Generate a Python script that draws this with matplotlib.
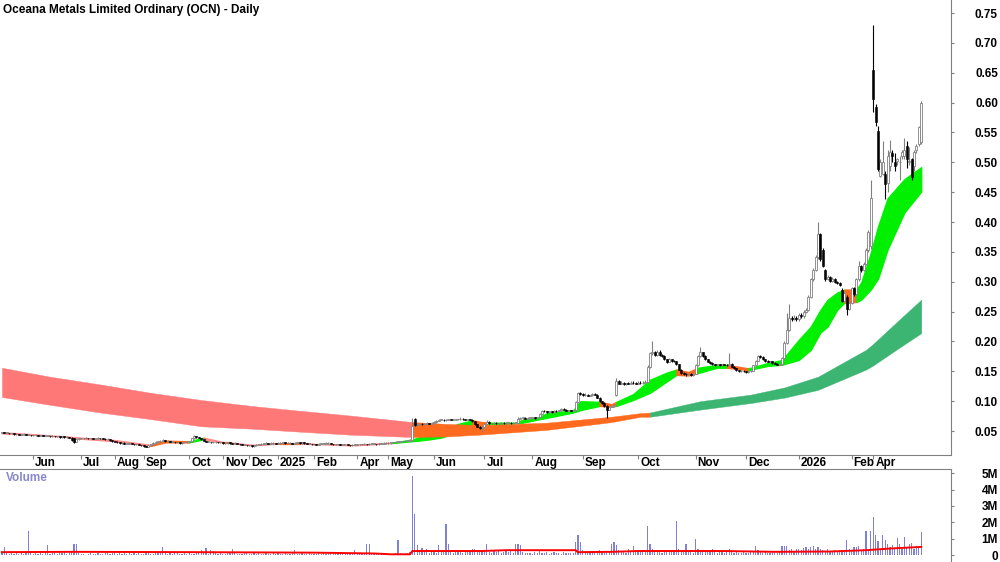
import numpy as np
import matplotlib.pyplot as plt
from matplotlib.transforms import blended_transform_factory, ScaledTranslation
from matplotlib.ticker import FuncFormatter

plt.rcParams['font.family'] = ['Liberation Sans', 'DejaVu Sans']

title = "Oceana Metals Limited Ordinary (OCN) - Daily"

# month labels and the bar (trading day) where each month starts
month_labels = ["Jun", "Jul", "Aug", "Sep", "Oct", "Nov", "Dec", "2025", "Feb", "Apr",
                "May", "Jun", "Jul", "Aug", "Sep", "Oct", "Nov", "Dec", "2026", "Feb", "Apr"]
month_bars = [13, 33, 47, 59, 78, 92, 103, 115, 130, 148,
              161, 180, 201, 221, 242, 265, 289, 310, 332, 354, 363]

# daily prices, in cents
open_c = [
    4.7, 4.8, 4.7, 4.7, 4.6, 4.6, 4.5, 4.5, 4.4, 4.4,
    4.5, 4.4, 4.4, 4.3, 4.3, 4.3, 4.2, 4.3, 4.2, 4.2,
    4.2, 4.1, 4.2, 4.1, 4.1, 4.0, 4.1, 4.0, 4.0, 3.9,
    3.9, 3.2, 3.6, 3.8, 3.8, 3.8, 3.9, 3.8, 3.8, 3.7,
    3.8, 3.9, 3.8, 3.7, 3.6, 3.7, 3.5, 3.3, 3.2, 3.1,
    3.0, 3.0, 2.9, 2.9, 3.0, 2.9, 2.8, 2.8, 2.7, 2.6,
    2.5, 2.4, 2.6, 2.8, 3.0, 3.2, 3.3, 3.4, 3.5, 3.3,
    3.4, 3.2, 3.2, 3.1, 3.1, 3.0, 3.1, 3.1, 3.2, 3.3,
    3.8, 4.1, 4.0, 3.9, 3.6, 3.4, 3.2, 3.2, 3.1, 3.1,
    3.2, 3.1, 3.1, 3.0, 3.0, 3.1, 3.0, 2.9, 3.0, 2.9,
    2.8, 2.7, 2.7, 2.6, 2.6, 2.5, 2.6, 2.7, 2.8, 2.9,
    2.9, 3.0, 2.9, 3.0, 3.0, 2.9, 3.0, 3.0, 3.1, 3.0,
    3.0, 3.0, 2.9, 3.0, 3.1, 3.0, 3.1, 3.0, 2.9, 2.9,
    2.8, 2.8, 2.7, 2.9, 2.9, 2.9, 3.0, 3.0, 2.9, 2.8,
    2.8, 2.8, 2.7, 2.8, 2.8, 2.7, 2.6, 2.7, 2.7, 2.8,
    2.8, 2.8, 2.9, 2.8, 2.9, 2.9, 2.9, 2.8, 2.9, 2.9,
    3.0, 3.0, 3.0, 3.1, 3.1, 3.2, 3.2, 3.3, 3.3, 3.4,
    3.4, 3.5, 7.0, 6.0, 6.1, 6.2, 6.1, 6.2, 6.3, 6.2,
    6.4, 6.5, 6.7, 6.9, 6.9, 6.8, 6.9, 7.0, 6.9, 6.9,
    7.0, 7.0, 7.1, 7.0, 6.9, 7.0, 6.9, 6.6, 6.1, 5.7,
    5.5, 5.6, 6.2, 6.5, 6.3, 6.3, 6.4, 6.3, 6.3, 6.4,
    6.3, 6.4, 6.4, 6.3, 6.4, 6.4, 7.1, 7.2, 7.2, 7.1,
    7.2, 7.2, 7.3, 7.2, 7.3, 7.9, 8.4, 8.3, 8.2, 8.3,
    8.2, 8.4, 8.3, 8.5, 8.7, 8.6, 8.4, 8.5, 8.4, 8.5,
    9.8, 11.4, 11.2, 11.0, 11.1, 10.9, 11.0, 11.2, 11.1, 10.6,
    10.0, 9.7, 9.2, 8.6, 9.1, 9.2, 11.0, 13.4, 12.9, 13.0,
    12.8, 13.0, 12.9, 13.1, 13.0, 12.9, 13.1, 13.0, 13.1, 13.2,
    15.8, 18.0, 18.2, 17.8, 18.3, 17.7, 17.6, 17.0, 16.6, 17.0,
    16.8, 16.7, 16.2, 15.3, 14.8, 14.6, 14.5, 14.6, 14.4, 14.6,
    16.0, 17.6, 18.2, 17.6, 17.0, 16.6, 16.4, 16.2, 16.1, 16.2,
    16.0, 16.2, 16.1, 16.0, 16.3, 15.8, 15.5, 15.2, 15.0, 15.1,
    15.0, 14.9, 15.0, 15.1, 16.0, 16.8, 17.5, 17.4, 17.0, 16.8,
    16.6, 16.7, 16.4, 16.3, 16.1, 16.2, 17.3, 19.8, 22.0, 24.0,
    23.8, 24.0, 23.7, 24.5, 24.2, 25.0, 25.3, 27.5, 30.4, 32.0,
    34.2, 38.0, 35.4, 32.0, 30.5, 30.8, 30.2, 30.5, 30.0, 29.8,
    28.7, 26.8, 27.5, 25.5, 26.5, 29.0, 28.0, 30.4, 32.6, 32.0,
    33.0, 35.4, 36.0, 65.5, 59.2, 55.2, 47.7, 48.0, 48.0, 46.6,
    49.3, 51.6, 50.0, 50.3, 50.0, 51.0, 51.0, 52.7, 50.0, 50.5,
    49.3, 52.0, 53.0, 53.4,
]
high_c = [
    4.9, 4.8, 4.8, 4.7, 4.7, 4.6, 4.6, 4.5, 4.5, 4.6,
    4.5, 4.5, 4.4, 4.4, 4.4, 4.3, 4.4, 4.3, 4.3, 4.3,
    4.2, 4.3, 4.2, 4.2, 4.1, 4.2, 4.1, 4.1, 4.0, 4.0,
    3.9, 3.7, 3.9, 3.9, 3.9, 4.0, 3.9, 3.9, 3.8, 3.9,
    4.0, 3.9, 3.8, 3.8, 3.8, 3.7, 3.5, 3.4, 3.3, 3.2,
    3.1, 3.1, 3.0, 3.1, 3.0, 2.9, 2.9, 2.8, 2.7, 2.6,
    2.5, 2.7, 2.9, 3.1, 3.3, 3.4, 3.5, 3.7, 3.5, 3.5,
    3.4, 3.3, 3.2, 3.2, 3.1, 3.2, 3.2, 3.3, 3.4, 3.9,
    4.3, 4.2, 4.0, 3.9, 3.6, 3.4, 3.3, 3.2, 3.2, 3.3,
    3.2, 3.2, 3.1, 3.1, 3.2, 3.1, 3.0, 3.1, 3.0, 2.9,
    2.8, 2.8, 2.7, 2.7, 2.6, 2.7, 2.8, 2.9, 3.0, 3.0,
    3.1, 3.0, 3.1, 3.1, 3.0, 3.1, 3.1, 3.2, 3.1, 3.1,
    3.1, 3.0, 3.1, 3.2, 3.1, 3.2, 3.1, 3.0, 3.0, 2.9,
    2.9, 2.9, 3.0, 3.0, 3.0, 3.1, 3.1, 3.0, 2.9, 2.9,
    2.9, 2.8, 2.9, 2.9, 2.8, 2.7, 2.8, 2.8, 2.9, 2.9,
    2.9, 3.0, 2.9, 3.0, 3.0, 3.0, 2.9, 3.0, 3.0, 3.1,
    3.1, 3.1, 3.2, 3.2, 3.3, 3.3, 3.4, 3.4, 3.5, 3.5,
    3.6, 7.2, 7.2, 6.3, 6.4, 6.3, 6.3, 6.5, 6.4, 6.5,
    6.6, 6.9, 7.1, 7.0, 7.0, 7.0, 7.1, 7.1, 7.0, 7.1,
    7.1, 7.3, 7.2, 7.1, 7.1, 7.0, 7.0, 6.7, 6.2, 5.8,
    5.8, 6.4, 6.8, 6.6, 6.4, 6.5, 6.5, 6.4, 6.5, 6.5,
    6.5, 6.5, 6.5, 6.5, 6.5, 7.3, 7.3, 7.4, 7.3, 7.3,
    7.3, 7.4, 7.4, 7.4, 8.0, 8.6, 8.5, 8.4, 8.4, 8.4,
    8.5, 8.5, 8.6, 8.9, 8.8, 8.7, 8.6, 8.6, 8.6, 10.0,
    11.6, 11.6, 11.3, 11.3, 11.2, 11.1, 11.4, 11.3, 11.2, 10.7,
    10.1, 9.8, 9.3, 9.2, 9.4, 9.5, 13.8, 13.5, 13.3, 13.2,
    13.1, 13.2, 13.4, 13.3, 13.2, 13.4, 13.3, 13.3, 13.5, 16.0,
    18.3, 20.0, 18.4, 18.6, 18.5, 17.9, 17.7, 17.1, 17.2, 17.1,
    16.9, 16.8, 16.3, 15.4, 14.9, 14.8, 14.8, 14.7, 14.7, 16.2,
    17.8, 19.0, 18.3, 17.7, 17.1, 16.7, 16.5, 16.3, 16.3, 16.3,
    16.3, 16.3, 16.2, 18.0, 16.4, 15.9, 15.6, 15.3, 15.2, 15.2,
    15.1, 15.1, 15.2, 16.1, 16.9, 17.7, 17.8, 17.5, 17.1, 16.9,
    16.8, 16.8, 16.5, 16.4, 16.3, 17.4, 20.0, 24.8, 26.2, 24.3,
    24.4, 24.2, 24.8, 24.7, 25.2, 25.6, 27.8, 30.6, 32.3, 34.5,
    40.0, 38.2, 35.6, 32.2, 31.2, 31.0, 30.8, 30.7, 30.2, 30.0,
    28.9, 28.5, 27.7, 26.8, 29.2, 29.2, 30.7, 33.5, 32.8, 33.3,
    35.7, 38.6, 47.0, 73.0, 59.8, 56.0, 50.5, 53.5, 48.5, 52.0,
    53.7, 52.0, 51.5, 50.8, 51.0, 52.0, 54.0, 53.5, 52.5, 50.8,
    52.0, 53.0, 56.0, 60.2,
]
low_c = [
    4.6, 4.6, 4.6, 4.5, 4.5, 4.4, 4.4, 4.3, 4.3, 4.3,
    4.3, 4.3, 4.2, 4.2, 4.2, 4.1, 4.1, 4.1, 4.1, 4.1,
    4.0, 4.0, 4.0, 4.0, 3.9, 3.9, 3.9, 3.9, 3.8, 3.4,
    3.0, 3.1, 3.5, 3.7, 3.7, 3.7, 3.7, 3.7, 3.6, 3.6,
    3.7, 3.7, 3.6, 3.5, 3.5, 3.4, 3.2, 3.1, 3.0, 2.9,
    2.9, 2.8, 2.8, 2.8, 2.8, 2.7, 2.7, 2.6, 2.5, 2.4,
    2.3, 2.3, 2.5, 2.7, 2.9, 3.1, 3.2, 3.3, 3.2, 3.2,
    3.1, 3.1, 3.0, 3.0, 2.9, 2.9, 3.0, 3.0, 3.1, 3.2,
    3.7, 3.9, 3.8, 3.5, 3.3, 3.1, 3.1, 3.0, 3.0, 3.0,
    3.0, 3.0, 2.9, 2.9, 2.9, 2.9, 2.8, 2.8, 2.8, 2.7,
    2.6, 2.6, 2.5, 2.5, 2.4, 2.4, 2.5, 2.6, 2.7, 2.8,
    2.8, 2.8, 2.8, 2.9, 2.8, 2.8, 2.9, 2.9, 2.9, 2.9,
    2.9, 2.8, 2.8, 2.9, 2.9, 2.9, 2.9, 2.8, 2.8, 2.7,
    2.7, 2.6, 2.6, 2.8, 2.8, 2.8, 2.9, 2.8, 2.7, 2.7,
    2.7, 2.6, 2.6, 2.7, 2.6, 2.5, 2.5, 2.6, 2.6, 2.7,
    2.7, 2.7, 2.7, 2.7, 2.8, 2.8, 2.7, 2.7, 2.8, 2.8,
    2.9, 2.9, 2.9, 3.0, 3.0, 3.1, 3.1, 3.2, 3.2, 3.3,
    3.3, 3.4, 5.8, 5.9, 6.0, 6.0, 6.0, 6.1, 6.1, 6.1,
    6.3, 6.4, 6.6, 6.8, 6.7, 6.7, 6.8, 6.8, 6.8, 6.8,
    6.9, 6.9, 6.9, 6.8, 6.8, 6.8, 6.5, 6.0, 5.6, 5.3,
    4.9, 5.5, 6.1, 6.2, 6.2, 6.2, 6.2, 6.2, 6.2, 6.2,
    6.2, 6.3, 6.2, 6.2, 6.3, 6.3, 7.0, 7.1, 7.0, 7.0,
    7.1, 7.1, 7.1, 7.1, 7.2, 7.8, 8.2, 8.1, 8.1, 8.1,
    8.1, 8.2, 8.2, 8.4, 8.5, 8.3, 8.3, 8.3, 8.3, 8.4,
    9.7, 11.0, 10.9, 10.9, 10.8, 10.8, 10.9, 11.0, 10.5, 9.9,
    9.6, 9.1, 7.2, 8.5, 9.0, 9.1, 10.9, 12.8, 12.8, 12.7,
    12.7, 12.8, 12.8, 12.9, 12.8, 12.8, 12.9, 12.9, 13.0, 13.2,
    15.6, 17.8, 17.6, 17.6, 17.5, 17.4, 16.9, 16.4, 16.5, 16.6,
    16.5, 16.1, 15.2, 14.6, 14.4, 14.3, 14.4, 14.2, 14.3, 14.5,
    15.9, 17.4, 17.4, 16.9, 16.5, 16.2, 16.0, 15.9, 16.0, 15.9,
    15.9, 16.0, 15.9, 15.9, 15.7, 15.4, 15.1, 14.9, 14.9, 14.9,
    14.7, 14.8, 14.9, 15.0, 15.9, 16.7, 17.2, 16.9, 16.6, 16.5,
    16.5, 16.3, 16.2, 16.0, 16.0, 16.1, 17.1, 19.6, 21.8, 23.5,
    23.6, 23.5, 23.5, 24.0, 24.0, 24.8, 25.1, 27.3, 30.1, 31.8,
    33.8, 33.5, 32.4, 30.2, 30.3, 30.0, 30.0, 29.8, 29.6, 29.3,
    26.6, 26.6, 24.5, 25.3, 26.3, 27.6, 27.8, 30.2, 31.6, 31.8,
    32.8, 35.0, 35.5, 58.4, 56.0, 48.5, 47.6, 47.8, 43.8, 45.0,
    48.5, 50.0, 48.5, 49.5, 47.0, 50.5, 50.5, 49.0, 49.5, 47.0,
    48.5, 51.5, 52.8, 53.0,
]
close_c = [
    4.8, 4.7, 4.7, 4.6, 4.6, 4.5, 4.5, 4.4, 4.4, 4.5,
    4.4, 4.4, 4.3, 4.3, 4.3, 4.2, 4.3, 4.2, 4.2, 4.2,
    4.1, 4.2, 4.1, 4.1, 4.0, 4.1, 4.0, 4.0, 3.9, 3.5,
    3.1, 3.6, 3.8, 3.8, 3.8, 3.9, 3.8, 3.8, 3.7, 3.8,
    3.9, 3.8, 3.7, 3.6, 3.7, 3.5, 3.3, 3.2, 3.1, 3.0,
    3.0, 2.9, 2.9, 3.0, 2.9, 2.8, 2.8, 2.7, 2.6, 2.5,
    2.4, 2.6, 2.8, 3.0, 3.2, 3.3, 3.4, 3.5, 3.3, 3.4,
    3.2, 3.2, 3.1, 3.1, 3.0, 3.1, 3.1, 3.2, 3.3, 3.8,
    4.1, 4.0, 3.9, 3.6, 3.4, 3.2, 3.2, 3.1, 3.1, 3.2,
    3.1, 3.1, 3.0, 3.0, 3.1, 3.0, 2.9, 3.0, 2.9, 2.8,
    2.7, 2.7, 2.6, 2.6, 2.5, 2.6, 2.7, 2.8, 2.9, 2.9,
    3.0, 2.9, 3.0, 3.0, 2.9, 3.0, 3.0, 3.1, 3.0, 3.0,
    3.0, 2.9, 3.0, 3.1, 3.0, 3.1, 3.0, 2.9, 2.9, 2.8,
    2.8, 2.7, 2.9, 2.9, 2.9, 3.0, 3.0, 2.9, 2.8, 2.8,
    2.8, 2.7, 2.8, 2.8, 2.7, 2.6, 2.7, 2.7, 2.8, 2.8,
    2.8, 2.9, 2.8, 2.9, 2.9, 2.9, 2.8, 2.9, 2.9, 3.0,
    3.0, 3.0, 3.1, 3.1, 3.2, 3.2, 3.3, 3.3, 3.4, 3.4,
    3.5, 5.8, 6.0, 6.1, 6.2, 6.1, 6.2, 6.3, 6.2, 6.4,
    6.5, 6.7, 6.9, 6.9, 6.8, 6.9, 7.0, 6.9, 6.9, 7.0,
    7.0, 7.1, 7.0, 6.9, 7.0, 6.9, 6.6, 6.1, 5.7, 5.5,
    5.6, 6.2, 6.5, 6.3, 6.3, 6.4, 6.3, 6.3, 6.4, 6.3,
    6.4, 6.4, 6.3, 6.4, 6.4, 7.1, 7.2, 7.2, 7.1, 7.2,
    7.2, 7.3, 7.2, 7.3, 7.9, 8.4, 8.3, 8.2, 8.3, 8.2,
    8.4, 8.3, 8.5, 8.7, 8.6, 8.4, 8.5, 8.4, 8.5, 9.8,
    11.4, 11.2, 11.0, 11.1, 10.9, 11.0, 11.2, 11.1, 10.6, 10.0,
    9.7, 9.2, 8.6, 9.1, 9.2, 9.3, 13.4, 12.9, 13.0, 12.8,
    13.0, 12.9, 13.1, 13.0, 12.9, 13.1, 13.0, 13.1, 13.2, 15.8,
    18.0, 18.2, 17.8, 18.3, 17.7, 17.6, 17.0, 16.6, 17.0, 16.8,
    16.7, 16.2, 15.3, 14.8, 14.6, 14.5, 14.6, 14.4, 14.6, 16.0,
    17.6, 18.2, 17.6, 17.0, 16.6, 16.4, 16.2, 16.1, 16.2, 16.0,
    16.2, 16.1, 16.0, 16.3, 15.8, 15.5, 15.2, 15.0, 15.1, 15.0,
    14.9, 15.0, 15.1, 16.0, 16.8, 17.5, 17.4, 17.0, 16.8, 16.6,
    16.7, 16.4, 16.3, 16.1, 16.2, 17.3, 19.8, 22.0, 24.0, 23.8,
    24.0, 23.7, 24.5, 24.2, 25.0, 25.3, 27.5, 30.4, 32.0, 34.2,
    38.0, 33.8, 32.6, 30.5, 30.8, 30.2, 30.5, 30.0, 29.8, 29.5,
    26.8, 28.2, 25.5, 26.5, 29.0, 28.0, 30.4, 32.6, 32.0, 33.0,
    35.4, 38.3, 44.0, 60.6, 56.7, 48.8, 50.0, 50.0, 46.3, 51.0,
    51.8, 51.0, 49.3, 50.5, 50.0, 51.7, 52.0, 50.5, 50.2, 47.5,
    51.7, 52.7, 55.9, 60.0,
]

# daily volume, in units of 10,000 shares
volume_10k = [
    15, 50, 20, 8, 10, 5, 12, 6, 10, 8,
    12, 145, 10, 6, 15, 8, 10, 5, 12, 60,
    8, 15, 10, 6, 12, 10, 20, 8, 10, 25,
    65, 65, 12, 5, 8, 0, 6, 10, 5, 8,
    12, 6, 4, 10, 20, 8, 15, 12, 6, 10,
    8, 20, 6, 15, 5, 10, 8, 12, 6, 4,
    10, 15, 8, 6, 12, 20, 10, 50, 25, 8,
    15, 6, 20, 10, 5, 8, 12, 6, 10, 8,
    5, 12, 10, 30, 15, 45, 8, 30, 25, 10,
    6, 10, 5, 8, 20, 12, 35, 10, 6, 8,
    5, 10, 15, 6, 8, 10, 5, 12, 8, 6,
    10, 5, 8, 12, 6, 10, 8, 5, 12, 6,
    8, 10, 30, 6, 5, 10, 8, 6, 12, 5,
    8, 6, 10, 5, 12, 8, 6, 10, 5, 8,
    6, 10, 8, 5, 12, 6, 10, 30, 8, 6,
    10, 5, 65, 65, 12, 8, 10, 6, 8, 5,
    10, 6, 8, 5, 12, 90, 10, 8, 15, 12,
    20, 480, 250, 60, 30, 45, 20, 35, 15, 25,
    20, 15, 60, 25, 30, 190, 70, 25, 15, 20,
    30, 20, 15, 25, 30, 20, 35, 40, 30, 20,
    25, 30, 70, 20, 15, 25, 20, 30, 15, 20,
    25, 20, 30, 15, 70, 70, 60, 20, 15, 10,
    15, 8, 20, 12, 25, 15, 10, 20, 8, 12,
    20, 10, 15, 8, 20, 12, 10, 15, 10, 80,
    120, 80, 30, 20, 15, 10, 20, 12, 15, 30,
    20, 15, 10, 25, 70, 80, 60, 30, 20, 25,
    15, 35, 20, 55, 30, 25, 20, 30, 25, 175,
    70, 40, 25, 30, 20, 15, 25, 20, 30, 25,
    20, 210, 40, 20, 30, 65, 25, 20, 15, 100,
    40, 30, 25, 20, 30, 25, 35, 20, 15, 25,
    20, 15, 30, 35, 20, 15, 25, 10, 15, 20,
    10, 15, 20, 25, 55, 30, 20, 15, 20, 10,
    15, 20, 10, 15, 20, 55, 55, 55, 30, 40,
    25, 35, 40, 30, 45, 50, 35, 50, 55, 40,
    50, 35, 30, 25, 35, 20, 25, 30, 25, 20,
    30, 25, 90, 40, 25, 50, 50, 55, 30, 40,
    145, 40, 145, 235, 125, 85, 40, 125, 90, 70,
    50, 60, 45, 105, 70, 40, 110, 50, 65, 75,
    40, 55, 50, 140,
]

# volume moving average (millions), read at a few bars
vma_bars = [0, 30, 80, 130, 155, 162, 170, 171, 200, 210, 239, 240, 254, 265, 300, 322, 345, 360, 370, 383]
vma_mil = [0.18, 0.2, 0.18, 0.15, 0.1, 0.05, 0.05, 0.25, 0.25, 0.3, 0.3, 0.18, 0.2, 0.25, 0.25, 0.2, 0.22, 0.3, 0.4, 0.5]

# short term average ribbon (cents), trend of each stretch
short_bars = [0, 12, 27, 33, 47, 62, 68, 78, 84, 93, 95, 104, 116, 124, 130, 133, 145, 147, 163,
              171, 174, 178, 183, 190, 196, 200, 203, 214, 217, 223, 227, 238, 241, 249, 254, 256,
              263, 270, 277, 281, 286, 290, 298, 302, 311, 319, 325, 332, 337, 341, 344, 348, 351,
              356, 358, 362, 365, 369, 376, 383]
short_top = [4.8, 4.5, 4.1, 3.9, 3.5, 2.7, 3.4, 3.3, 3.9, 3.1, 3.1, 2.7, 3.0, 3.0, 2.9, 2.9, 2.7, 2.7, 3.1,
             3.6, 4.0, 4.5, 5.0, 6.2, 6.8, 6.5, 6.4, 6.4, 6.9, 7.2, 8.0, 8.5, 10.0, 9.9, 9.5, 9.9,
             11.2, 13.6, 14.8, 15.3, 14.9, 15.6, 16.1, 16.1, 15.5, 16.4, 16.9, 20.3, 22.5, 25.3, 27.0, 28.2, 28.7,
             28.7, 29.9, 34.9, 39.3, 44.0, 47.2, 49.2]
short_bot = [4.6, 4.4, 4.0, 3.7, 3.3, 2.5, 3.1, 3.1, 3.6, 3.0, 3.0, 2.6, 2.9, 2.9, 2.8, 2.8, 2.6, 2.6, 3.0,
             3.3, 3.4, 3.6, 3.9, 4.8, 5.9, 6.0, 6.1, 6.3, 6.4, 6.9, 7.2, 8.1, 8.5, 9.2, 9.1, 9.2,
             10.2, 11.4, 13.3, 14.4, 14.3, 14.7, 15.6, 15.6, 15.2, 15.9, 16.1, 16.9, 18.6, 21.5, 22.5, 25.3, 26.5,
             26.6, 27.0, 28.7, 30.5, 35.4, 41.6, 45.1]
short_trend = ["down", "down", "down", "down", "down", "mixed", "mixed", "up", "down", "mixed", "down", "down",
               "mixed", "down", "mixed", "down", "mixed", "down", "up",
               "up", "up", "up", "up", "up", "mixed", "mixed", "up", "up", "up", "up", "up", "up", "up",
               "mixed", "mixed", "up", "up", "up", "up", "mixed", "mixed", "up", "up", "mixed", "up", "up",
               "up", "up", "up", "up", "up", "up", "mixed", "up", "up", "up", "up", "up", "up"]

# long term average ribbon (cents)
long_bars = [0, 20, 41, 62, 83, 104, 124, 145, 171, 185, 199, 227, 254, 266, 270,
             291, 312, 326, 340, 360, 363, 374, 383]
long_top = [15.6, 14.1, 12.8, 11.4, 10.2, 9.2, 8.4, 7.6, 6.5, 6.2, 6.0, 6.4, 7.4, 8.0, 8.1,
            10.0, 11.1, 12.3, 14.1, 18.6, 19.6, 23.7, 27.0]
long_bot = [10.7, 9.4, 8.1, 7.0, 5.8, 5.4, 4.9, 4.4, 4.0, 4.1, 4.4, 5.2, 6.5, 7.4, 7.4,
            8.6, 9.7, 10.6, 11.9, 15.3, 16.0, 19.0, 21.4]
long_trend = ["down"] * 8 + ["mixed"] * 6 + ["up"] * 8

SHORT_COLORS = {"up": "#00f000", "mixed": "#ff6a1e", "down": "#ff8a8a"}
LONG_COLORS = {"up": "#3cb472", "mixed": "#ff6a1e", "down": "#ff7878"}
GRAY = "#808080"


# Закрашує стрічку: один суцільний шматок на кожну ділянку з однаковим трендом
def draw_ribbon(ax, bars, top, bot, trend, colors, edge, z):
    top = np.asarray(top) / 100
    bot = np.asarray(bot) / 100
    start = 0
    for i in range(1, len(trend) + 1):
        if i == len(trend) or trend[i] != trend[start]:
            c = colors[trend[start]]
            sl = slice(start, i + 1)
            ax.fill_between(bars[sl], bot[sl], top[sl], facecolor=c, edgecolor=c,
                            linewidth=edge, zorder=z)
            start = i


def draw_candles(ax):
    o = np.asarray(open_c) / 100
    h = np.asarray(high_c) / 100
    l = np.asarray(low_c) / 100
    c = np.asarray(close_c) / 100
    x = np.arange(len(c))
    up = c >= o
    ax.vlines(x[up], l[up], h[up], color=GRAY, linewidth=0.8, zorder=3)
    ax.vlines(x[~up], l[~up], h[~up], color="black", linewidth=0.8, zorder=3)
    lo = np.minimum(o, c)
    size = np.maximum(np.abs(c - o), 0.0007)
    ax.bar(x[up], size[up], bottom=lo[up], width=0.8, facecolor="white",
           edgecolor=GRAY, linewidth=0.6, zorder=4)
    ax.bar(x[~up], size[~up], bottom=lo[~up], width=0.8, facecolor="black",
           edgecolor="black", linewidth=0.4, zorder=4)


def main():
    fig = plt.figure(figsize=(10, 5.62), dpi=100)
    ax = fig.add_axes([0, 107 / 562, 951 / 1000, 455 / 562])
    vax = fig.add_axes([0, 0, 951 / 1000, 93 / 562], sharex=ax)

    n = len(close_c)
    # довга стрічка лежить поверх короткої
    draw_ribbon(ax, short_bars, short_top, short_bot, short_trend, SHORT_COLORS, 0.9, 1)
    draw_ribbon(ax, long_bars, long_top, long_bot, long_trend, LONG_COLORS, 0.3, 2)
    draw_candles(ax)

    ax.set_xlim(-0.83, 395.4)
    ax.set_ylim(0.0099, 0.7718)

    # права шкала цін
    ax.yaxis.tick_right()
    ax.set_yticks(np.arange(0.05, 0.76, 0.05))
    ax.yaxis.set_major_formatter(FuncFormatter(lambda v, p: f"{v:.2f}"))
    ax.tick_params(axis="y", length=2.2, color=GRAY, pad=31.6, labelsize=8.5)
    for t in ax.get_yticklabels():
        t.set_fontweight("bold")
        t.set_horizontalalignment("right")

    # місяці внизу панелі цін
    ax.set_xticks(month_bars)
    ax.tick_params(axis="x", length=3, color=GRAY, labelbottom=False)
    trans = blended_transform_factory(ax.transData, ax.transAxes) + \
        ScaledTranslation(2 / 100, 0, fig.dpi_scale_trans)
    for b, lab in zip(month_bars, month_labels):
        ax.text(b, -0.0175, lab, transform=trans, ha="left", va="center",
                fontsize=8.5, fontweight="bold")

    for s in ("left", "top"):
        ax.spines[s].set_visible(False)
    for s in ("bottom", "right"):
        ax.spines[s].set_color(GRAY)

    fig.text(0.003, 0.982, title, ha="left", va="center", fontsize=8.5, fontweight="bold")

    # обсяги
    vol = np.asarray(volume_10k) / 100
    vax.bar(np.arange(n), vol, width=0.45, color="#8080d8", zorder=2)
    vax.plot(vma_bars, vma_mil, color="#ff0000", linewidth=1.4, zorder=3)
    vax.set_ylim(-0.42, 5.25)
    vax.yaxis.tick_right()
    vax.set_yticks([0, 1, 2, 3, 4, 5])
    vax.set_yticklabels(["0", "1M", "2M", "3M", "4M", "5M"])
    vax.tick_params(axis="y", length=2.2, color=GRAY, pad=31.6, labelsize=8.5)
    for t in vax.get_yticklabels():
        t.set_fontweight("bold")
        t.set_horizontalalignment("right")
    vax.tick_params(axis="x", bottom=False, labelbottom=False)
    for s in ("left", "bottom"):
        vax.spines[s].set_visible(False)
    for s in ("top", "right"):
        vax.spines[s].set_color(GRAY)
    vax.text(0.006, 0.9, "Volume", transform=vax.transAxes, ha="left", va="center",
             fontsize=8.5, fontweight="bold", color="#8888cc")

    fig.savefig("out.png", dpi=100)


if __name__ == "__main__":
    main()
